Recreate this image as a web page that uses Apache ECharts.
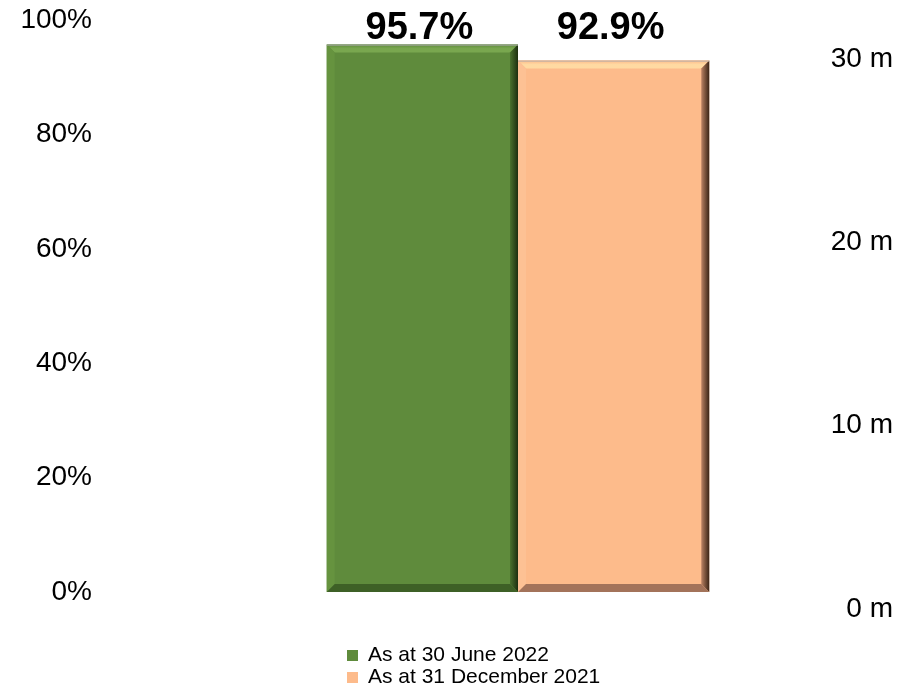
<!DOCTYPE html>
<html>
<head>
<meta charset="utf-8">
<script src="https://cdn.jsdelivr.net/npm/echarts@6/dist/echarts.min.js"></script>
<style>
  html, body { margin: 0; padding: 0; background: #ffffff; }
  #chart { width: 919px; height: 690px; }
</style>
</head>
<body>
<div id="chart"></div>
<script>
// ---- data ----
const categories = ['Occupancy'];
const seriesNames = ['As at 30 June 2022', 'As at 31 December 2021'];
const occupancyJune2022 = [95.7];
const occupancyDec2021 = [92.9];
const percentTicks = [0, 20, 40, 60, 80, 100];
const areaTicks = [0, 10, 20, 30];

// ---- styling ----
const FONT = '"Liberation Sans", Arial, Helvetica, sans-serif';
const BAR_SHARE = 0.344;   // width of one bar as a share of the category band
const BEVEL = 8;           // bevel depth in px
const LABEL_SIZE = 38;
const LABEL_BASELINE = 23.5; // value labels sit on one line, this far below the 100% level
const palettes = [
  { face: '#5f8b3c', top: '#79a74f', left: '#66933f', right: ['#4a722e', '#1d2f10'], bottom: '#3e6026', edge: '#a8a8a8' },
  { face: '#fdbb8b', top: '#ffdaa2', left: '#fdc194', right: ['#bb8263', '#3a2416'], bottom: '#a3735a', edge: '#b8b0a8' }
];

function bevelledBar(idx) {
  return function (params, api) {
    const val = api.value(1);
    const topPt = api.coord([api.value(0), val]);
    const basePt = api.coord([api.value(0), 0]);
    const fullPt = api.coord([api.value(0), percentTicks[percentTicks.length - 1]]);
    const bw = api.size([1, 0])[0] * BAR_SHARE;
    const x0 = idx === 0 ? topPt[0] - bw : topPt[0];
    const x1 = x0 + bw;
    const y0 = topPt[1];
    const y1 = basePt[1];
    const b = BEVEL;
    const p = palettes[idx];
    return {
      type: 'group',
      children: [
        { type: 'rect', shape: { x: x0, y: y0, width: bw, height: y1 - y0 }, style: { fill: p.face } },
        { type: 'polygon', shape: { points: [[x0, y0], [x1, y0], [x1 - b, y0 + b], [x0 + b, y0 + b]] },
          style: { fill: new echarts.graphic.LinearGradient(0, 0, 0, 1, [
            { offset: 0, color: p.face }, { offset: 0.5, color: p.top }, { offset: 1, color: p.top }]) } },
        { type: 'polygon', shape: { points: [[x0, y0], [x0 + b, y0 + b], [x0 + b, y1 - b], [x0, y1]] },
          style: { fill: p.left } },
        { type: 'polygon', shape: { points: [[x1, y0], [x1, y1], [x1 - b, y1 - b], [x1 - b, y0 + b]] },
          style: { fill: new echarts.graphic.LinearGradient(0, 0, 1, 0, [
            { offset: 0, color: p.right[0] }, { offset: 1, color: p.right[1] }]) } },
        { type: 'polygon', shape: { points: [[x0, y1], [x1, y1], [x1 - b, y1 - b], [x0 + b, y1 - b]] },
          style: { fill: p.bottom } },
        { type: 'line', shape: { x1: x0, y1: y0 + 0.5, x2: x1, y2: y0 + 0.5 },
          style: { stroke: p.edge, lineWidth: 1 } },
        { type: 'text', style: {
            text: val.toFixed(1) + '%', x: (x0 + x1) / 2 - 3, y: fullPt[1] + LABEL_BASELINE + 4.5,
            align: 'center', verticalAlign: 'bottom',
            font: 'bold ' + LABEL_SIZE + 'px ' + FONT, fill: '#000000' } }
      ]
    };
  };
}

const chart = echarts.init(document.getElementById('chart'), null, { renderer: 'canvas' });

chart.setOption({
  animation: false,
  backgroundColor: '#ffffff',
  grid: [
    { left: 240, right: 123, top: 20, bottom: 98 },
    { left: 240, right: 123, top: 59, bottom: 81 }
  ],
  legend: {
    data: seriesNames,
    orient: 'vertical',
    left: 347,
    top: 645,
    padding: 0,
    itemGap: 1,
    itemWidth: 11,
    itemHeight: 11,
    icon: 'rect',
    textStyle: { fontFamily: FONT, fontSize: 21, color: '#000000', lineHeight: 21, padding: [0, 0, 0, 5] }
  },
  xAxis: [
    { type: 'category', gridIndex: 0, data: categories, show: false },
    { type: 'category', gridIndex: 1, data: categories, show: false }
  ],
  yAxis: [
    {
      type: 'value', gridIndex: 0, position: 'left',
      min: percentTicks[0], max: percentTicks[percentTicks.length - 1], interval: 20,
      axisLine: { show: false }, axisTick: { show: false }, splitLine: { show: false },
      axisLabel: { formatter: '{value}%', fontFamily: FONT, fontSize: 28, color: '#000000', margin: 148 }
    },
    {
      type: 'value', gridIndex: 1, position: 'right',
      min: areaTicks[0], max: areaTicks[areaTicks.length - 1], interval: 10,
      axisLine: { show: false }, axisTick: { show: false }, splitLine: { show: false },
      axisLabel: { formatter: '{value} m', fontFamily: FONT, fontSize: 28, color: '#000000',
                   align: 'right', margin: 97 }
    }
  ],
  series: [
    {
      name: seriesNames[0], type: 'custom', xAxisIndex: 0, yAxisIndex: 0,
      itemStyle: { color: palettes[0].face },
      renderItem: bevelledBar(0),
      data: categories.map((c, i) => [i, occupancyJune2022[i]])
    },
    {
      name: seriesNames[1], type: 'custom', xAxisIndex: 0, yAxisIndex: 0,
      itemStyle: { color: palettes[1].face },
      renderItem: bevelledBar(1),
      data: categories.map((c, i) => [i, occupancyDec2021[i]])
    }
  ]
});
</script>
</body>
</html>
